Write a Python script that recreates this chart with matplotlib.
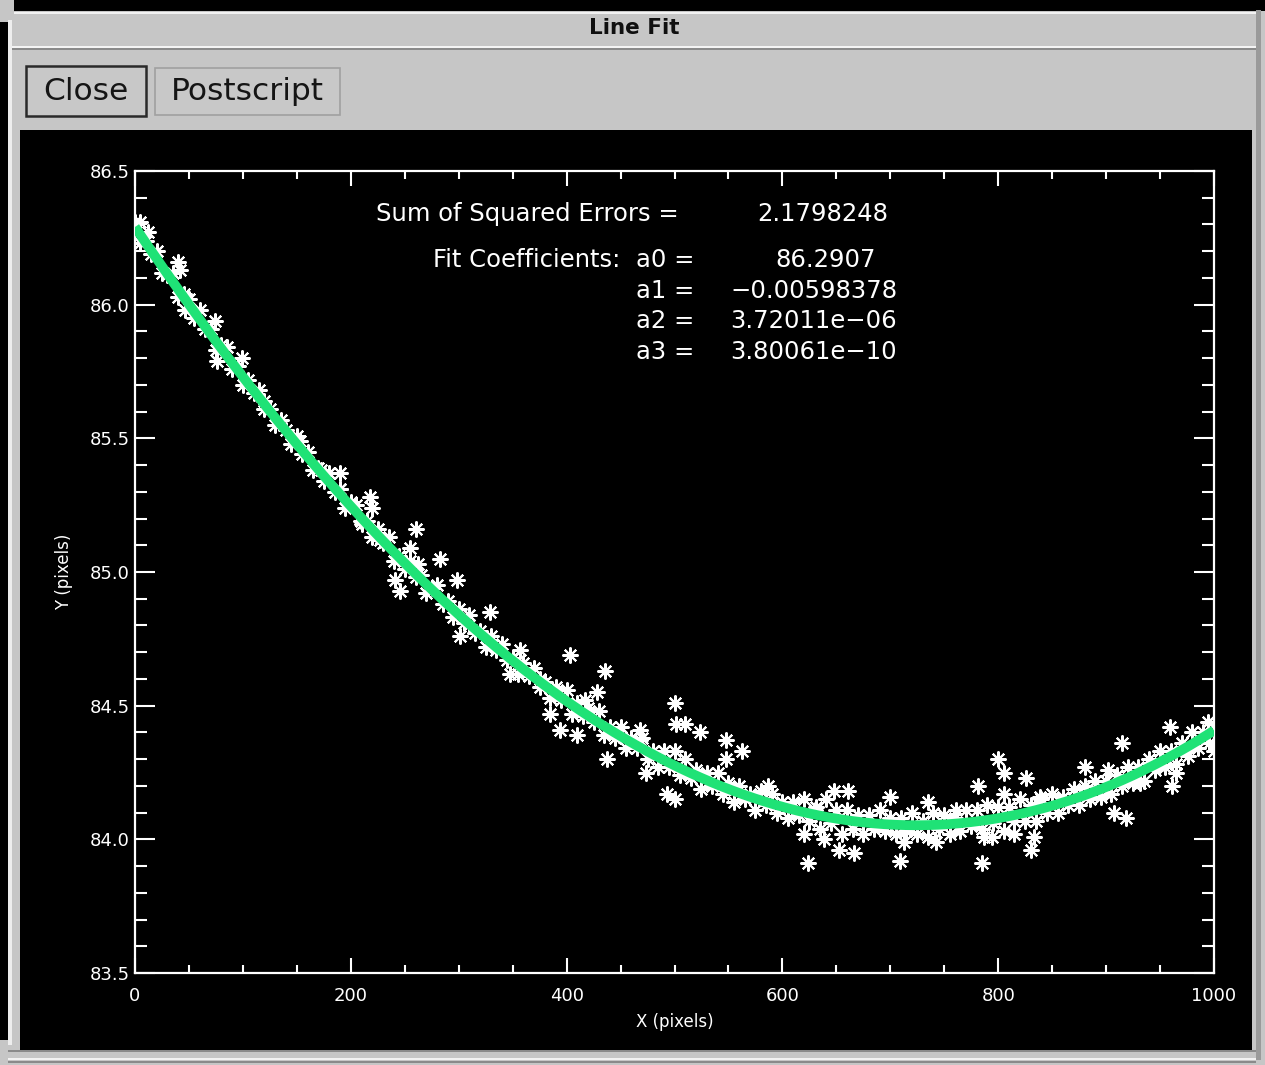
import matplotlib
matplotlib.use("Agg")
import matplotlib.pyplot as plt
from matplotlib.patches import Rectangle
import numpy as np

# ---------------- data ----------------
# fit coefficients shown in the chart (cubic polynomial, a0..a3)
fit_coeffs = [86.2907, -0.00598378, 3.72011e-06, 3.80061e-10]
sse_text = "2.1798248"
coef_labels = ["a0 =", "a1 =", "a2 =", "a3 ="]
coef_texts = ["86.2907", "\u22120.00598378", "3.72011e\u221206", "3.80061e\u221210"]

band_x = list(range(0, 1001, 5))
band_y = [
    86.31, 86.23, 86.24, 86.19, 86.20, 86.12, 86.11, 86.12, 86.03, 86.04,
    86.02, 85.95, 85.98, 85.91, 85.91, 85.83, 85.85, 85.84, 85.76, 85.77,
    85.70, 85.72, 85.67, 85.68, 85.61, 85.61, 85.55, 85.57, 85.53, 85.48,
    85.51, 85.44, 85.45, 85.38, 85.39, 85.34, 85.37, 85.30, 85.31, 85.24,
    85.26, 85.25, 85.18, 85.19, 85.13, 85.16, 85.11, 85.13, 85.04, 85.06,
    85.01, 85.04, 84.98, 84.99, 84.92, 84.94, 84.95, 84.88, 84.89, 84.83,
    84.86, 84.81, 84.84, 84.77, 84.78, 84.72, 84.76, 84.71, 84.73, 84.67,
    84.68, 84.62, 84.66, 84.61, 84.64, 84.57, 84.59, 84.53, 84.57, 84.52,
    84.56, 84.47, 84.51, 84.46, 84.49, 84.44, 84.48, 84.39, 84.42, 84.38,
    84.42, 84.34, 84.38, 84.34, 84.38, 84.30, 84.33, 84.27, 84.33, 84.27,
    84.33, 84.24, 84.30, 84.23, 84.26, 84.19, 84.25, 84.20, 84.25, 84.17,
    84.21, 84.14, 84.20, 84.15, 84.17, 84.11, 84.18, 84.13, 84.17, 84.10,
    84.14, 84.08, 84.14, 84.09, 84.15, 84.07, 84.11, 84.04, 84.15, 84.06,
    84.11, 84.02, 84.11, 84.04, 84.09, 84.02, 84.09, 84.04, 84.11, 84.03,
    84.08, 84.02, 84.08, 84.03, 84.10, 84.02, 84.07, 84.01, 84.10, 84.04,
    84.09, 84.02, 84.08, 84.03, 84.11, 84.05, 84.11, 84.04, 84.13, 84.06,
    84.12, 84.03, 84.12, 84.07, 84.15, 84.07, 84.13, 84.07, 84.15, 84.10,
    84.17, 84.10, 84.16, 84.13, 84.19, 84.13, 84.20, 84.15, 84.22, 84.16,
    84.22, 84.17, 84.24, 84.20, 84.27, 84.21, 84.27, 84.22, 84.30, 84.26,
    84.33, 84.27, 84.33, 84.28, 84.36, 84.33, 84.40, 84.34, 84.40, 84.36,
    84.43,
]

# scattered outliers
out_x = [5, 12, 40, 42, 46, 74, 76, 99, 120, 153, 172, 190, 190, 218, 220,
         209, 227, 260, 255, 241, 246, 262, 283, 298, 301, 329, 310, 348, 357,
         375, 385, 394, 403, 410, 417, 428, 436, 437, 449, 468, 474, 493, 500,
         501, 510, 524, 548, 563, 548, 500, 587, 624, 620, 639, 652, 666, 648,
         661, 700, 709, 713, 735, 742, 761, 781, 785, 787, 794, 800, 805, 805,
         815, 826, 830, 833, 839, 880, 915, 902, 907, 918, 931, 959, 961, 965,
         976, 994, 1000, 631, 468]
out_y = [86.31, 86.27, 86.16, 86.13, 85.98, 85.94, 85.79, 85.80, 85.64, 85.49,
         85.38, 85.37, 85.31, 85.28, 85.24, 85.19, 85.12, 85.16, 85.09, 84.97,
         84.93, 85.03, 85.05, 84.97, 84.76, 84.85, 84.80, 84.62, 84.71, 84.60,
         84.47, 84.41, 84.69, 84.39, 84.52, 84.55, 84.63, 84.30, 84.39, 84.37,
         84.25, 84.17, 84.51, 84.43, 84.43, 84.40, 84.37, 84.33, 84.30, 84.15,
         84.20, 83.91, 84.02, 84.00, 83.96, 83.95, 84.18, 84.18, 84.16, 83.92,
         83.99, 84.14, 83.99, 84.11, 84.20, 83.91, 84.01, 84.01, 84.30, 84.25,
         84.17, 84.02, 84.23, 83.96, 84.01, 84.16, 84.27, 84.36, 84.26, 84.10,
         84.08, 84.21, 84.42, 84.20, 84.25, 84.31, 84.44, 84.33, 84.12, 84.41]

x_ticks = [0, 200, 400, 600, 800, 1000]
y_ticks = [83.5, 84.0, 84.5, 85.0, 85.5, 86.0, 86.5]

# ---------------- figure / window frame ----------------
W, H = 1265, 1065
fig = plt.figure(figsize=(W / 100, H / 100), dpi=100)
fig.patch.set_facecolor("#c6c6c6")

bg = fig.add_axes([0, 0, 1, 1])
bg.set_xlim(0, W)
bg.set_ylim(H, 0)
bg.axis("off")


def rect(x0, y0, x1, y1, fc, ec="none", lw=0, z=1):
    bg.add_patch(Rectangle((x0, y0), x1 - x0, y1 - y0, facecolor=fc,
                           edgecolor=ec, linewidth=lw, zorder=z))


# outer dark borders
rect(14, 0, W, 11, "#000000")
rect(0, 22, 8, 1040, "#000000")
rect(1256, 10, 1261, 1060, "#9a9a9a")
# highlight lines
rect(14, 12, 1256, 14, "#f2f2f2")
rect(8, 20, 12, 1045, "#eeeeee")
# title separator
rect(12, 46, 1256, 48, "#f4f4f4")
rect(12, 48, 1256, 50, "#8a8a8a")
# bottom lines
rect(8, 1050, 1256, 1052, "#8a8a8a")
rect(8, 1058, 1256, 1060, "#f2f2f2")
rect(8, 1061, 1256, 1063, "#8a8a8a")
# black plotting panel
rect(20, 130, 1252, 1050, "#000000", z=2)

# title
bg.text(634, 28, "Line Fit", ha="center", va="center", fontsize=15.5,
        fontweight="bold", color="#101010", family="DejaVu Sans")

# buttons
rect(26, 66, 146, 116, "#c8c8c8", ec="#2a2a2a", lw=1.8, z=3)
rect(155, 68, 340, 115, "#c8c8c8", ec="#a0a0a0", lw=1.2, z=3)
bg.text(86, 92, "Close", ha="center", va="center", fontsize=22.5,
        color="#151515", family="DejaVu Sans", zorder=4)
bg.text(247, 92, "Postscript", ha="center", va="center", fontsize=22.5,
        color="#151515", family="DejaVu Sans", zorder=4)

# ---------------- plot ----------------
left, right, top, bottom = 135, 1214, 171, 973
ax = fig.add_axes([left / W, 1 - bottom / H, (right - left) / W, (bottom - top) / H])
ax.set_facecolor("#000000")
ax.set_zorder(5)

ax.plot(band_x, band_y, linestyle="none", marker=(8, 2, 0), markersize=11.5,
        markeredgewidth=1.5, color="white", zorder=3)
ax.plot(out_x, out_y, linestyle="none", marker=(8, 2, 0), markersize=11.5,
        markeredgewidth=1.5, color="white", zorder=3)

xf = np.linspace(0, 1000, 400)
yf = np.polyval(fit_coeffs[::-1], xf)
ax.plot(xf, yf, color="#1fe276", linewidth=7, solid_capstyle="butt", zorder=4)

ax.set_xlim(0, 1000)
ax.set_ylim(83.5, 86.5)
ax.set_xticks(x_ticks)
ax.set_xticklabels([str(v) for v in x_ticks])
ax.set_yticks(y_ticks)
ax.set_yticklabels([f"{v:.1f}" for v in y_ticks])
ax.set_xticks(np.arange(0, 1001, 50), minor=True)
ax.set_yticks(np.arange(83.5, 86.51, 0.1), minor=True)

for s in ax.spines.values():
    s.set_color("white")
    s.set_linewidth(1.6)

ax.tick_params(axis="both", which="both", direction="in", colors="white",
               top=True, right=True, width=1.5)
ax.tick_params(axis="x", which="major", length=11, pad=10, labelsize=13)
ax.tick_params(axis="x", which="minor", length=6)
ax.tick_params(axis="y", which="major", length=14.5, pad=4, labelsize=13)
ax.tick_params(axis="y", which="minor", length=8.5)
for lab in ax.get_xticklabels() + ax.get_yticklabels():
    lab.set_family("DejaVu Sans")

ax.set_xlabel("X (pixels)", color="white", fontsize=12, labelpad=6)
ax.set_ylabel("Y (pixels)", color="white", fontsize=12, labelpad=12)

# annotations (placed in window pixel coordinates)
tk = dict(color="white", fontsize=17.5, va="center", ha="left",
          transform=bg.transData, family="DejaVu Sans", zorder=10)
ax.text(376, 214, "Sum of Squared Errors =", **tk)
ax.text(757, 214, sse_text, **tk)
ax.text(433, 260, "Fit Coefficients:", **tk)
coef_y = [260, 291, 321, 352]
coef_x = [775, 730, 730, 730]
for lab, val, yy, xx in zip(coef_labels, coef_texts, coef_y, coef_x):
    ax.text(636, yy, lab, **tk)
    ax.text(xx, yy, val, **tk)

fig.savefig("out.png", dpi=100, facecolor=fig.get_facecolor())
